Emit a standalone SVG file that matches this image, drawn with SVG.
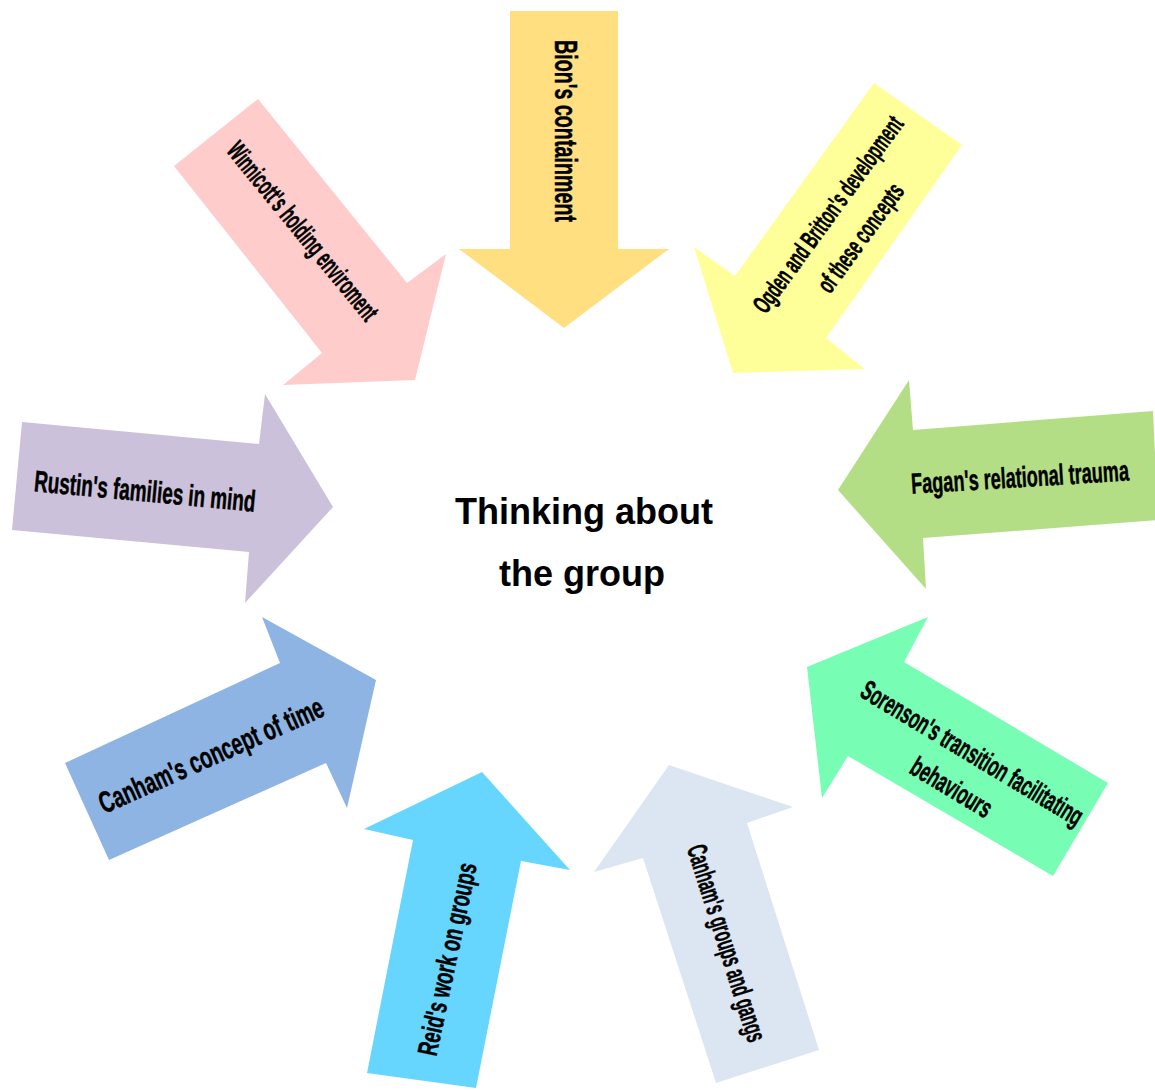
<svg xmlns="http://www.w3.org/2000/svg" width="1155" height="1090" viewBox="0 0 1155 1090">
<style>
.lbl{font-family:"Liberation Sans Narrow","Liberation Sans",Arial,sans-serif;font-weight:bold;fill:#000;stroke:#000;stroke-width:0.5px;text-anchor:middle}
.ctr{font-family:"Liberation Sans",Arial,sans-serif;font-weight:bold;font-size:36px;fill:#000;text-anchor:middle}
</style>
<rect width="1155" height="1090" fill="#FFFFFF"/>
<g id="connectors">
<g id="arrow-bion">
<polygon points="510,11 618,11 618,249 669,249 564,328 459,249 510,249" fill="#FFDF80"/>
<text class="lbl" font-size="32" transform="translate(566,131) rotate(90)" dy="0.35em" textLength="182" lengthAdjust="spacingAndGlyphs">Bion's containment</text>
</g>
<g id="arrow-ogden">
<polygon points="874,83 962,145 826,338 865,369 733,373 694,247 735,276" fill="#FFFF99"/>
<g transform="translate(844,226) rotate(-54)">
<text class="lbl" font-size="26" y="-20" dy="0.35em" textLength="236" lengthAdjust="spacingAndGlyphs">Ogden and Britton's development</text>
<text class="lbl" font-size="26" y="20" dy="0.35em" textLength="128" lengthAdjust="spacingAndGlyphs">of these concepts</text>
</g>
</g>
<g id="arrow-winnicott">
<polygon points="174,166 258,99 407,283 446,254 415,380 283,385 322,353" fill="#FFCCCC"/>
<text class="lbl" font-size="27" transform="translate(303,231) rotate(50.7)" dy="0.35em" textLength="222" lengthAdjust="spacingAndGlyphs">Winnicott's holding enviroment</text>
</g>
<g id="arrow-rustin">
<polygon points="22,422 259,444 265,394 333,507 245,603 249,552 12,530" fill="#CCC1DA"/>
<text class="lbl" font-size="30" transform="translate(145,491) rotate(5.3)" dy="0.35em" textLength="222" lengthAdjust="spacingAndGlyphs">Rustin's families in mind</text>
</g>
<g id="arrow-fagan">
<polygon points="909,380 913,430 1153,411 1158,520 923,538 926,589 838,490" fill="#B4DE86"/>
<text class="lbl" font-size="29" transform="translate(1020,477) rotate(-3.5)" dy="0.35em" textLength="218" lengthAdjust="spacingAndGlyphs">Fagan's relational trauma</text>
</g>
<g id="arrow-canham-time">
<polygon points="109,860 65,763 280,663 262,617 376,680 347,808 326,763" fill="#8EB4E3"/>
<text class="lbl" font-size="30" transform="translate(211,755) rotate(-24)" dy="0.35em" textLength="243" lengthAdjust="spacingAndGlyphs">Canham's concept of time</text>
</g>
<g id="arrow-sorenson">
<polygon points="928,617 904,662 1108,783 1053,876 848,756 822,798 807,667" fill="#78FDB4"/>
<g transform="translate(962,770) rotate(31)">
<text class="lbl" font-size="28" y="-20" dy="0.35em" textLength="254" lengthAdjust="spacingAndGlyphs">Sorenson's transition facilitating</text>
<text class="lbl" font-size="28" y="20" dy="0.35em" textLength="90" lengthAdjust="spacingAndGlyphs">behaviours</text>
</g>
</g>
<g id="arrow-reid">
<polygon points="364,829 482,772 570,870 521,861 476,1088 367,1073 413,840" fill="#66D6FF"/>
<text class="lbl" font-size="28" transform="translate(447,959) rotate(-78)" dy="0.35em" textLength="196" lengthAdjust="spacingAndGlyphs">Reid's work on groups</text>
</g>
<g id="arrow-canham-groups">
<polygon points="594,872 669,765 793,807 747,823 819,1050 716,1083 643,858" fill="#DCE6F2"/>
<text class="lbl" font-size="28" transform="translate(727,943) rotate(72.5)" dy="0.35em" textLength="205" lengthAdjust="spacingAndGlyphs">Canham's groups and gangs</text>
</g>
</g>
<g id="center">
<text class="ctr" x="584" y="524">Thinking about</text>
<text class="ctr" x="582" y="586">the group</text>
</g>
</svg>
